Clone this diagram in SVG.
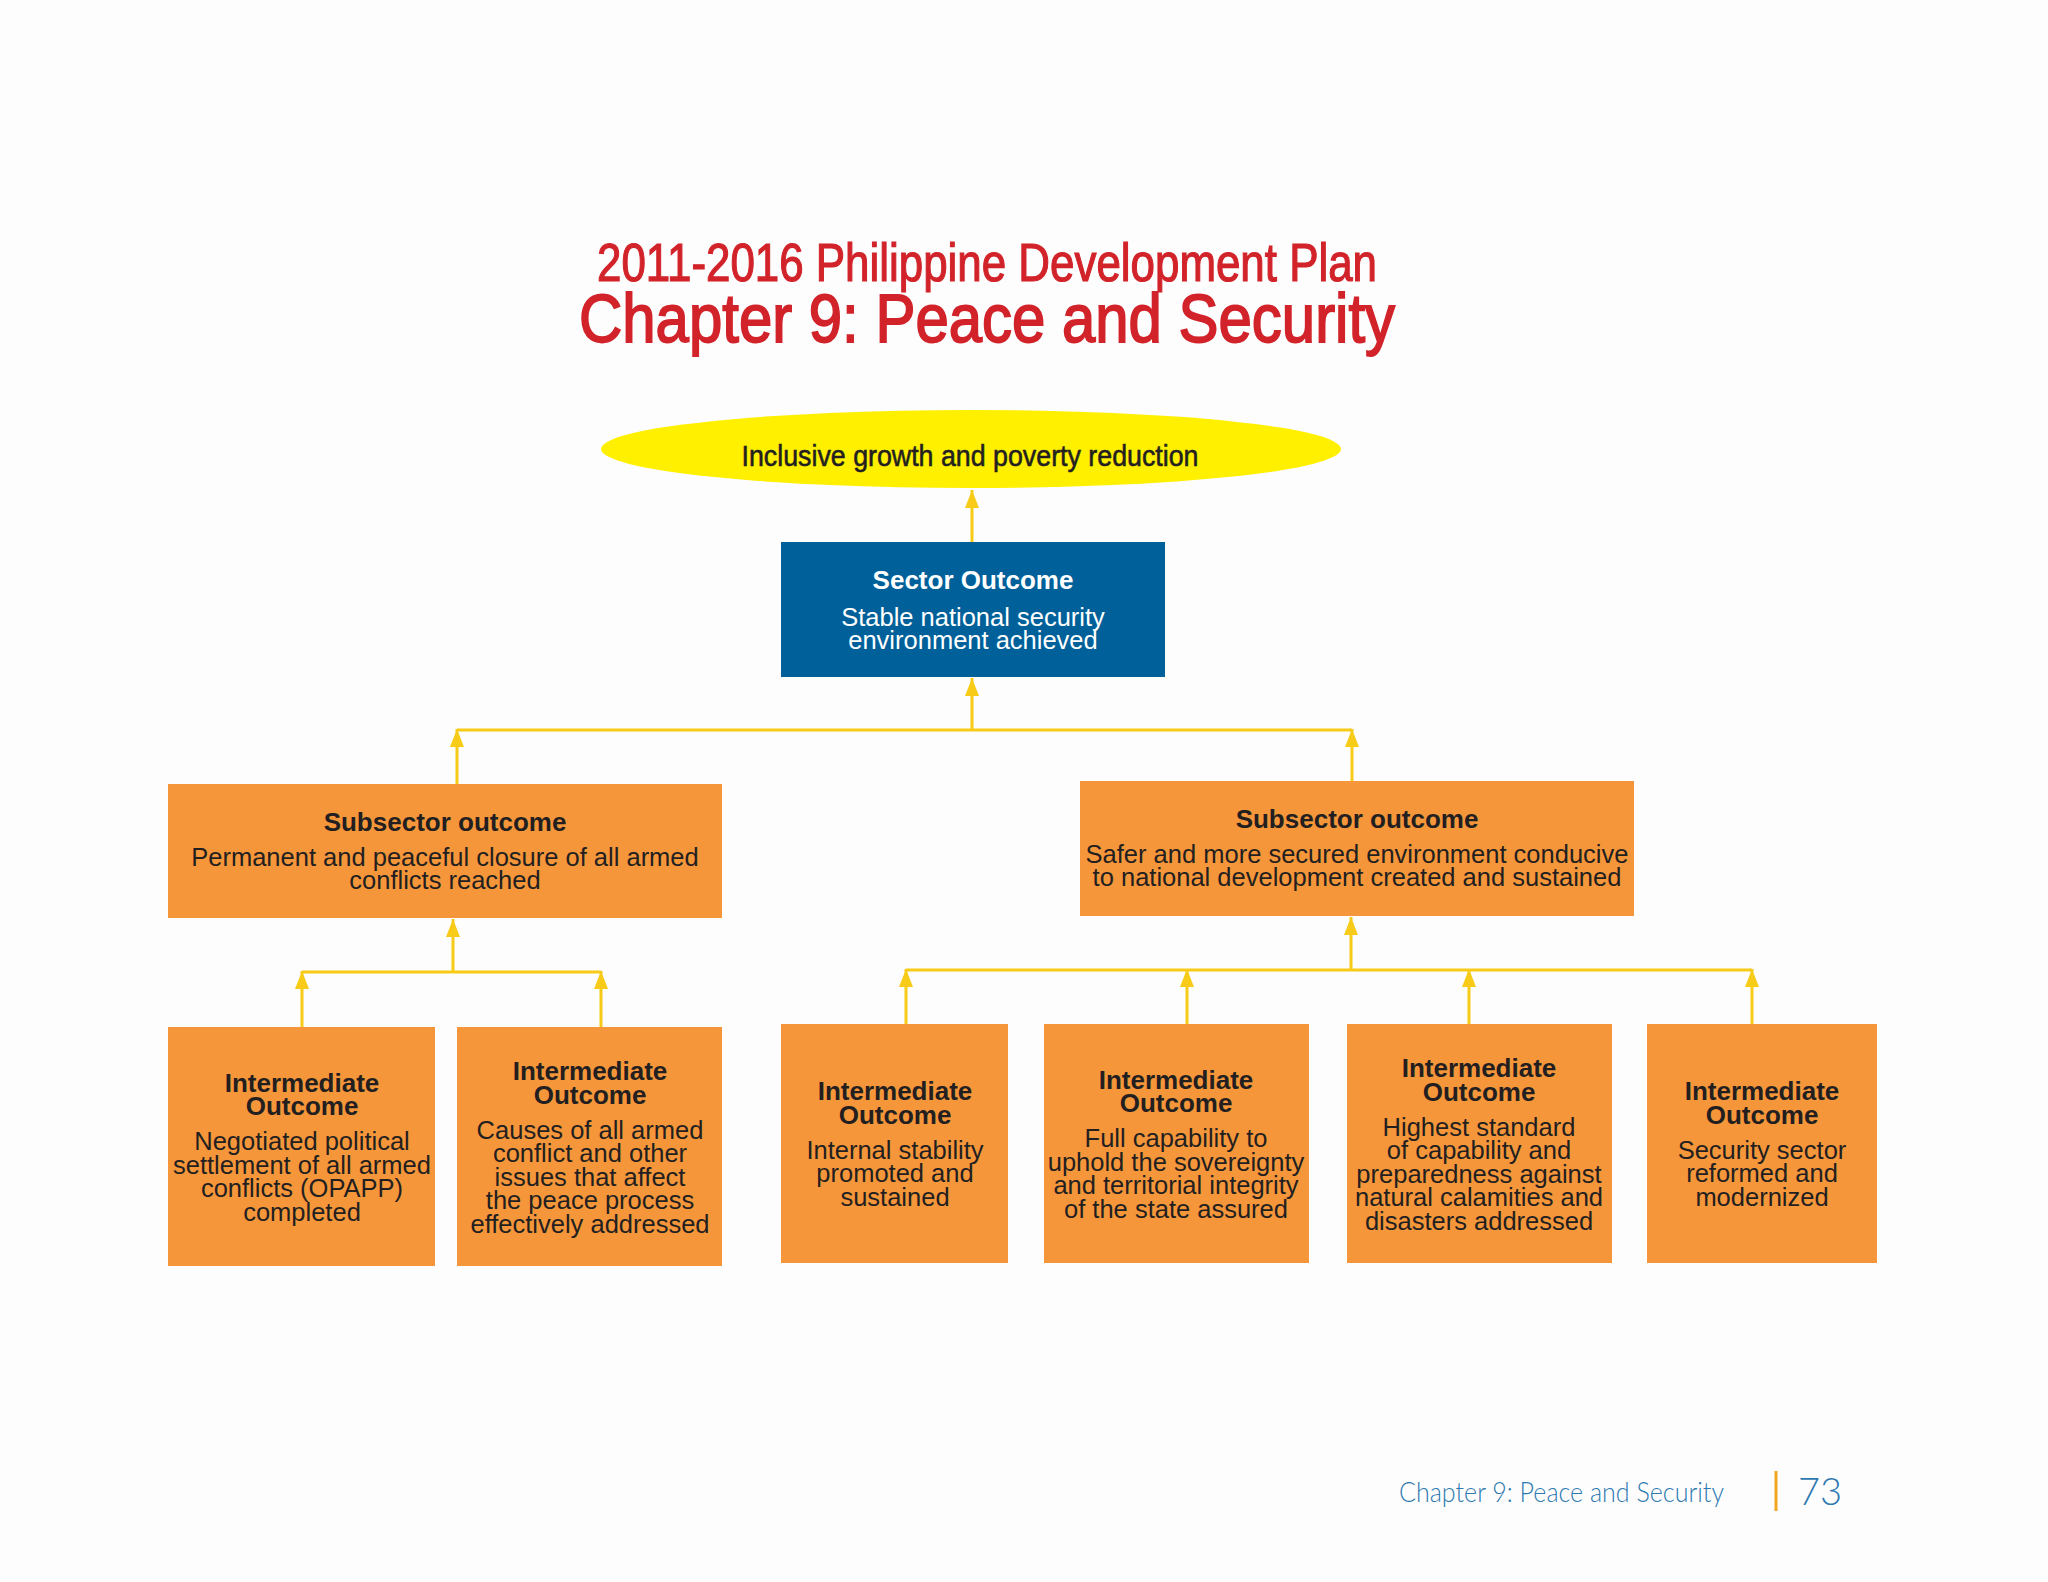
<svg xmlns="http://www.w3.org/2000/svg" width="2048" height="1582" viewBox="0 0 2048 1582">
<defs>
<style>
.bg{fill:#FDFDFD}
.t1{font-family:"Liberation Sans",Arial,sans-serif;font-weight:normal;fill:#D2232A;stroke:#D2232A}
.ob{fill:#F6963A}
.bb{fill:#00619A}
.hd{font-family:"Liberation Sans",Arial,sans-serif;font-weight:bold;font-size:26px;fill:#231F20;text-anchor:middle}
.bd{font-family:"Liberation Sans",Arial,sans-serif;font-size:25.5px;fill:#231F20;text-anchor:middle}
.w{fill:#FFFFFF}
.cn{stroke:#F7CB17;stroke-width:3;fill:none}
.ar{stroke:#F7CB17;stroke-width:3;fill:none;marker-end:url(#ah)}
.ft{font-family:Lato,"Liberation Sans",sans-serif;font-weight:300;fill:#2E79B0}
</style>
<marker id="ah" markerUnits="userSpaceOnUse" markerWidth="14" markerHeight="18" refX="18" refY="7" orient="auto">
<path d="M0,0 L18,7 L0,14 z" fill="#F7CB17"/>
</marker>
</defs>
<rect class="bg" x="0" y="0" width="2048" height="1582"/>

<g id="title">
<text class="t1" x="987" y="281" font-size="53" stroke-width="1.2" text-anchor="middle" textLength="780" lengthAdjust="spacingAndGlyphs">2011-2016 Philippine Development Plan</text>
<text class="t1" x="987" y="342" font-size="68" stroke-width="1.8" text-anchor="middle" textLength="816" lengthAdjust="spacingAndGlyphs">Chapter 9: Peace and Security</text>
</g>

<g id="connectors">
<line class="ar" x1="972" y1="542" x2="972" y2="490"/>
<line class="ar" x1="972" y1="730" x2="972" y2="678"/>
<line class="cn" x1="457" y1="730" x2="1352" y2="730"/>
<line class="ar" x1="457" y1="784" x2="457" y2="729"/>
<line class="ar" x1="1352" y1="781" x2="1352" y2="729"/>
<line class="ar" x1="453" y1="972" x2="453" y2="919"/>
<line class="cn" x1="302" y1="972" x2="601" y2="972"/>
<line class="ar" x1="302" y1="1027" x2="302" y2="971"/>
<line class="ar" x1="601" y1="1027" x2="601" y2="971"/>
<line class="ar" x1="1351" y1="970" x2="1351" y2="917"/>
<line class="cn" x1="906" y1="970" x2="1752" y2="970"/>
<line class="ar" x1="906" y1="1024" x2="906" y2="969"/>
<line class="ar" x1="1187" y1="1024" x2="1187" y2="969"/>
<line class="ar" x1="1469" y1="1024" x2="1469" y2="969"/>
<line class="ar" x1="1752" y1="1024" x2="1752" y2="969"/>
</g>

<g id="goal">
<ellipse cx="971" cy="449" rx="370" ry="39" fill="#FFF000"/>
<text x="970" y="466" font-family="'Liberation Sans',Arial,sans-serif" font-size="30" fill="#231F20" stroke="#231F20" stroke-width="0.6" text-anchor="middle" textLength="457" lengthAdjust="spacingAndGlyphs">Inclusive growth and poverty reduction</text>
</g>

<g id="sector">
<rect class="bb" x="781" y="542" width="384" height="135"/>
<text class="hd w" x="973" y="589">Sector Outcome</text>
<text class="bd w" x="973" y="626">Stable national security<tspan x="973" dy="23">environment achieved</tspan></text>
</g>

<g id="subsector-left">
<rect class="ob" x="168" y="784" width="554" height="134"/>
<text class="hd" x="445" y="831">Subsector outcome</text>
<text class="bd" x="445" y="866">Permanent and peaceful closure of all armed<tspan x="445" dy="23">conflicts reached</tspan></text>
</g>

<g id="subsector-right">
<rect class="ob" x="1080" y="781" width="554" height="135"/>
<text class="hd" x="1357" y="828">Subsector outcome</text>
<text class="bd" x="1357" y="863">Safer and more secured environment conducive<tspan x="1357" dy="23">to national development created and sustained</tspan></text>
</g>

<g id="io1">
<rect class="ob" x="168" y="1027" width="267" height="239"/>
<text class="hd" x="302" y="1091.5">Intermediate<tspan x="302" dy="23.5">Outcome</tspan></text>
<text class="bd" x="302" y="1150">Negotiated political<tspan x="302" dy="23.5">settlement of all armed</tspan><tspan x="302" dy="23.5">conflicts (OPAPP)</tspan><tspan x="302" dy="23.5">completed</tspan></text>
</g>

<g id="io2">
<rect class="ob" x="457" y="1027" width="265" height="239"/>
<text class="hd" x="590" y="1080">Intermediate<tspan x="590" dy="23.5">Outcome</tspan></text>
<text class="bd" x="590" y="1138.5">Causes of all armed<tspan x="590" dy="23.5">conflict and other</tspan><tspan x="590" dy="23.5">issues that affect</tspan><tspan x="590" dy="23.5">the peace process</tspan><tspan x="590" dy="23.5">effectively addressed</tspan></text>
</g>

<g id="io3">
<rect class="ob" x="781" y="1024" width="227" height="239"/>
<text class="hd" x="895" y="1100">Intermediate<tspan x="895" dy="23.5">Outcome</tspan></text>
<text class="bd" x="895" y="1158.5">Internal stability<tspan x="895" dy="23.5">promoted and</tspan><tspan x="895" dy="23.5">sustained</tspan></text>
</g>

<g id="io4">
<rect class="ob" x="1044" y="1024" width="265" height="239"/>
<text class="hd" x="1176" y="1088.5">Intermediate<tspan x="1176" dy="23.5">Outcome</tspan></text>
<text class="bd" x="1176" y="1147">Full capability to<tspan x="1176" dy="23.5">uphold the sovereignty</tspan><tspan x="1176" dy="23.5">and territorial integrity</tspan><tspan x="1176" dy="23.5">of the state assured</tspan></text>
</g>

<g id="io5">
<rect class="ob" x="1347" y="1024" width="265" height="239"/>
<text class="hd" x="1479" y="1077">Intermediate<tspan x="1479" dy="23.5">Outcome</tspan></text>
<text class="bd" x="1479" y="1135.5">Highest standard<tspan x="1479" dy="23.5">of capability and</tspan><tspan x="1479" dy="23.5">preparedness against</tspan><tspan x="1479" dy="23.5">natural calamities and</tspan><tspan x="1479" dy="23.5">disasters addressed</tspan></text>
</g>

<g id="io6">
<rect class="ob" x="1647" y="1024" width="230" height="239"/>
<text class="hd" x="1762" y="1100">Intermediate<tspan x="1762" dy="23.5">Outcome</tspan></text>
<text class="bd" x="1762" y="1158.5">Security sector<tspan x="1762" dy="23.5">reformed and</tspan><tspan x="1762" dy="23.5">modernized</tspan></text>
</g>

<g id="footer">
<text class="ft" x="1399" y="1502" font-size="28" textLength="325" lengthAdjust="spacingAndGlyphs">Chapter 9: Peace and Security</text>
<line x1="1776" y1="1471" x2="1776" y2="1511" stroke="#F5A623" stroke-width="3"/>
<text class="ft" x="1798" y="1505" font-size="38">73</text>
</g>
</svg>
